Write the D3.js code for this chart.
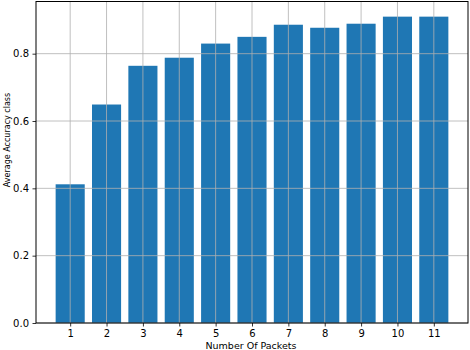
<!DOCTYPE html>
<head>
    <meta charset="UTF-8">
    <script src="https://cdnjs.cloudflare.com/ajax/libs/d3/7.8.5/d3.min.js"></script>
    <style>
        body { margin: 0; background: #fff; }
        text { font-family: "DejaVu Sans", sans-serif; }
    </style>
</head>
<body>
    <svg id="chart"></svg>
    <script>
        // datos
        var packets = [1, 2, 3, 4, 5, 6, 7, 8, 9, 10, 11];
        var accuracy = [0.412, 0.649, 0.764, 0.788, 0.830, 0.850, 0.886, 0.877, 0.889, 0.910, 0.910];
        var yTicks = [0.0, 0.2, 0.4, 0.6, 0.8];

        var width = 470, height = 350;
        var margin = { top: 1.5, right: 2, bottom: 27, left: 36 };

        var svg = d3.select("#chart")
            .attr("width", width)
            .attr("height", height);

        var x = d3.scaleLinear()
            .domain([0.06, 11.94])
            .range([margin.left, width - margin.right]);

        var y = d3.scaleLinear()
            .domain([0, 0.955])
            .range([height - margin.bottom, margin.top]);

        var barW = x(0.8) - x(0);

        // barras
        svg.append("g")
            .selectAll("rect")
            .data(packets)
            .enter()
            .append("rect")
            .attr("x", function (d) { return x(d - 0.4); })
            .attr("width", barW)
            .attr("y", function (d, i) { return y(accuracy[i]); })
            .attr("height", function (d, i) { return y(0) - y(accuracy[i]); })
            .attr("fill", "#1f77b4");

        // grilla encima de las barras
        var grid = svg.append("g")
            .attr("stroke", "#b0b0b0")
            .attr("stroke-width", 0.8);

        grid.selectAll(".vg")
            .data(packets)
            .enter()
            .append("line")
            .attr("x1", function (d) { return x(d); })
            .attr("x2", function (d) { return x(d); })
            .attr("y1", y.range()[0])
            .attr("y2", y.range()[1]);

        grid.selectAll(".hg")
            .data(yTicks)
            .enter()
            .append("line")
            .attr("x1", x.range()[0])
            .attr("x2", x.range()[1])
            .attr("y1", function (d) { return y(d); })
            .attr("y2", function (d) { return y(d); });

        // ejes
        var xAxis = d3.axisBottom(x)
            .tickValues(packets)
            .tickFormat(d3.format("d"))
            .tickSize(3.5)
            .tickPadding(3.5);

        var yAxis = d3.axisLeft(y)
            .tickValues(yTicks)
            .tickFormat(d3.format(".1f"))
            .tickSize(3.5)
            .tickPadding(3.5);

        var gx = svg.append("g")
            .attr("transform", "translate(0," + y(0) + ")")
            .call(xAxis);
        gx.select(".domain").remove();

        var gy = svg.append("g")
            .attr("transform", "translate(" + x.range()[0] + ",0)")
            .call(yAxis);
        gy.select(".domain").remove();

        svg.selectAll(".tick text")
            .attr("font-size", 10)
            .attr("font-family", "DejaVu Sans")
            .attr("fill", "#000");
        svg.selectAll(".tick line").attr("stroke", "#000").attr("stroke-width", 0.8);

        // marco
        svg.append("rect")
            .attr("x", x.range()[0])
            .attr("y", y.range()[1])
            .attr("width", x.range()[1] - x.range()[0])
            .attr("height", y.range()[0] - y.range()[1])
            .attr("fill", "none")
            .attr("stroke", "#000")
            .attr("stroke-width", 1);

        // títulos
        svg.append("text")
            .attr("x", 251)
            .attr("y", 348.5)
            .attr("text-anchor", "middle")
            .attr("font-size", 9.5)
            .text("Number Of Packets");

        svg.append("text")
            .attr("transform", "translate(9.5,140) rotate(-90)")
            .attr("text-anchor", "middle")
            .attr("font-size", 8)
            .text("Average Accuracy class");
    </script>
</body>
